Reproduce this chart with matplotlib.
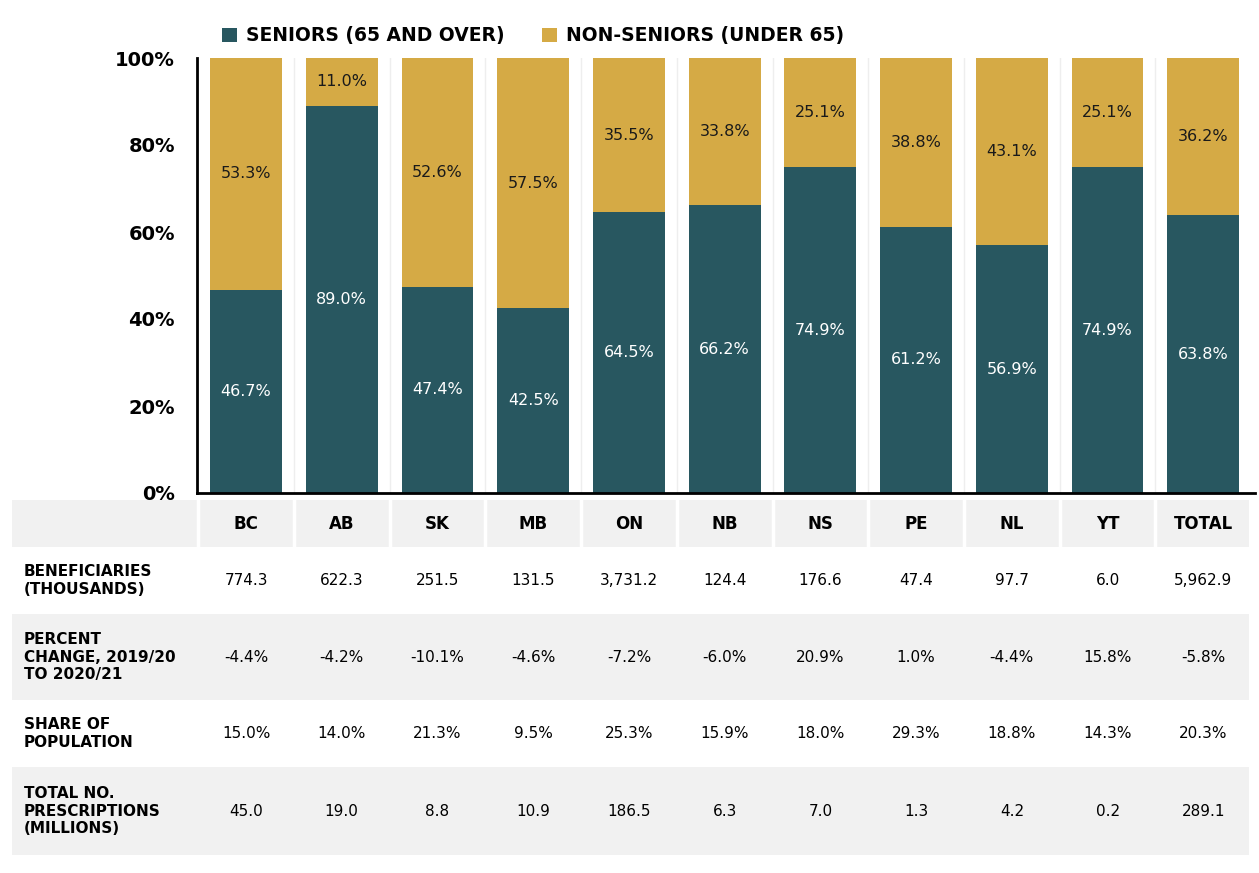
import matplotlib.pyplot as plt
from matplotlib.transforms import blended_transform_factory
from matplotlib.patches import Rectangle

# data
provinces = ['BC', 'AB', 'SK', 'MB', 'ON', 'NB', 'NS', 'PE', 'NL', 'YT', 'TOTAL']
seniors = [46.7, 89.0, 47.4, 42.5, 64.5, 66.2, 74.9, 61.2, 56.9, 74.9, 63.8]
non_seniors = [53.3, 11.0, 52.6, 57.5, 35.5, 33.8, 25.1, 38.8, 43.1, 25.1, 36.2]

row_labels = ['BENEFICIARIES\n(THOUSANDS)',
              'PERCENT\nCHANGE, 2019/20\nTO 2020/21',
              'SHARE OF\nPOPULATION',
              'TOTAL NO.\nPRESCRIPTIONS\n(MILLIONS)']
beneficiaries = ['774.3', '622.3', '251.5', '131.5', '3,731.2', '124.4', '176.6', '47.4', '97.7', '6.0', '5,962.9']
pct_change = ['-4.4%', '-4.2%', '-10.1%', '-4.6%', '-7.2%', '-6.0%', '20.9%', '1.0%', '-4.4%', '15.8%', '-5.8%']
pop_share = ['15.0%', '14.0%', '21.3%', '9.5%', '25.3%', '15.9%', '18.0%', '29.3%', '18.8%', '14.3%', '20.3%']
prescriptions = ['45.0', '19.0', '8.8', '10.9', '186.5', '6.3', '7.0', '1.3', '4.2', '0.2', '289.1']

dark = '#285760'
gold = '#d5aa45'
band = '#f1f1f1'

W, H = 1259, 873
fig = plt.figure(figsize=(W / 100, H / 100), dpi=100)
ax = fig.add_axes([197 / W, 1 - 493 / H, (1255 - 197) / W, (493 - 58) / H])

x = list(range(len(provinces)))
ax.set_xlim(-0.512, 10.54)
ax.set_ylim(0, 100)

# light column separators
for i in range(len(provinces) - 1):
    ax.axvline(i + 0.5, color='#eeeeee', lw=1, zorder=0)

ax.bar(x, seniors, width=0.75, color=dark, label='SENIORS (65 AND OVER)', zorder=2)
ax.bar(x, non_seniors, width=0.75, bottom=seniors, color=gold,
       label='NON-SENIORS (UNDER 65)', zorder=2)

for i in x:
    ax.text(i, seniors[i] / 2, f'{seniors[i]:.1f}%', ha='center', va='center',
            color='white', fontsize=11.5, zorder=3)
    ax.text(i, seniors[i] + non_seniors[i] / 2, f'{non_seniors[i]:.1f}%',
            ha='center', va='center', color='#1a1a1a', fontsize=11.5, zorder=3)

ax.set_yticks([0, 20, 40, 60, 80, 100])
ax.set_yticklabels(['0%', '20%', '40%', '60%', '80%', '100%'],
                   fontsize=14, fontweight='bold')
ax.tick_params(axis='y', length=0, pad=16)
ax.set_xticks([])
for s in ['top', 'right']:
    ax.spines[s].set_visible(False)
ax.spines['left'].set_linewidth(2)
ax.spines['bottom'].set_linewidth(2)

leg = fig.legend(loc='center', bbox_to_anchor=(533 / W, 1 - 36 / H), ncol=2,
                 frameon=False, handlelength=0.8, handleheight=0.8,
                 handletextpad=0.5, columnspacing=2.0,
                 prop={'weight': 'bold', 'size': 13.5})

# table below chart
tr = blended_transform_factory(ax.transData, fig.transFigure)
rows_px = [(500, 547), (547, 614), (614, 700), (700, 767), (767, 855)]
x_left = (12 - 246) / 95.75
x_right = (1249 - 246) / 95.75

def fy(p):
    return 1 - p / H

for k, (y0, y1) in enumerate(rows_px):
    if k % 2 == 0:
        fig.patches.append(Rectangle((x_left, fy(y1)), x_right - x_left, fy(y0) - fy(y1),
                                     transform=tr, facecolor=band, edgecolor='none', zorder=0))

# white separators in header row
for i in range(len(provinces)):
    sep = i - 0.5
    fig.lines.append(plt.Line2D([sep, sep], [fy(547), fy(500)], transform=tr,
                                color='white', lw=2.5, zorder=1))

for i, name in enumerate(provinces):
    fig.text(i, fy(524), name, transform=tr, ha='center', va='center',
             fontsize=12, fontweight='bold')

values = [beneficiaries, pct_change, pop_share, prescriptions]
for k, vals in enumerate(values):
    y0, y1 = rows_px[k + 1]
    yc = fy((y0 + y1) / 2)
    fig.text(24 / W, yc, row_labels[k], ha='left', va='center', fontsize=11,
             fontweight='bold', linespacing=1.2)
    for i, v in enumerate(vals):
        fig.text(i, yc, v, transform=tr, ha='center', va='center', fontsize=11)

fig.savefig('out.png', dpi=100)
